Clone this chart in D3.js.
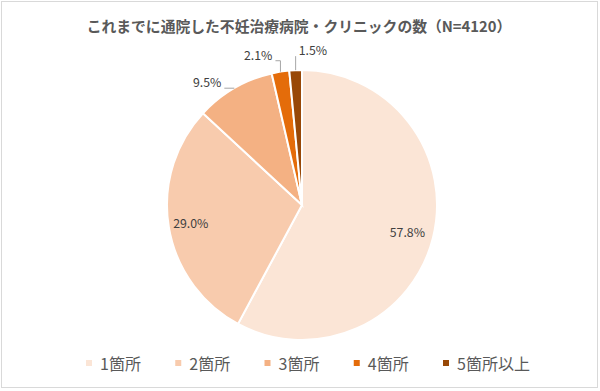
<!DOCTYPE html>
<html>
<head>
<meta charset="utf-8">
<script src="https://cdn.jsdelivr.net/npm/d3@7"></script>
<style>
  body { margin: 0; background: #fff; }
  text { font-family: "Noto Sans CJK JP", "Noto Sans", sans-serif; }
</style>
</head>
<body>
<div id="vis-container"></div>
<script>
// Chart data
var categories = ["1箇所", "2箇所", "3箇所", "4箇所", "5箇所以上"];
var values = [57.8, 29.0, 9.5, 2.1, 1.5];
var labels = ["57.8%", "29.0%", "9.5%", "2.1%", "1.5%"];
var colors = ["#FBE5D6", "#F8CBAD", "#F4B183", "#E46C0A", "#984807"];
var title = "これまでに通院した不妊治療病院・クリニックの数（N=4120）";

var width = 600;
var height = 391;
var radius = 135;
var cx = 302, cy = 205;

var svg = d3.select("#vis-container").append("svg")
    .attr("width", width)
    .attr("height", height);

// outer frame
svg.append("rect")
    .attr("x", 1.5).attr("y", 1.5)
    .attr("width", width - 4).attr("height", height - 5)
    .attr("fill", "#fff")
    .attr("stroke", "#d9d9d9");

svg.append("text")
    .attr("x", 299)
    .attr("y", 32)
    .attr("text-anchor", "middle")
    .attr("font-size", 14.8)
    .attr("font-weight", "bold")
    .attr("fill", "#595959")
    .text(title);

var data = categories.map(function (c, i) {
    return {name: c, value: values[i], label: labels[i], color: colors[i]};
});

var pie = d3.pie().sort(null).value(function (d) { return d.value; });
var arcs = pie(data);
var arc = d3.arc().innerRadius(0).outerRadius(radius);
var edgeArc = d3.arc().innerRadius(radius).outerRadius(radius);
var inArc = d3.arc().innerRadius(radius * 0.82).outerRadius(radius * 0.82);

var pieG = svg.append("g").attr("transform", "translate(" + cx + "," + cy + ")");

pieG.selectAll("path.slice")
    .data(arcs)
    .enter().append("path")
    .attr("class", "slice")
    .attr("d", arc)
    .attr("fill", function (d) { return d.data.color; })
    .attr("stroke", "#fff")
    .attr("stroke-width", 2);

// leader line styles for the small slices: [kind, length]
var leaderStyle = [null, null, ["h", 10], ["vl", 11], ["vr", 14]];

arcs.forEach(function (d, i) {
    if (!leaderStyle[i]) {
        var c = inArc.centroid(d);
        pieG.append("text")
            .attr("x", c[0] - 2).attr("y", c[1] + 1)
            .attr("text-anchor", "middle")
            .attr("dy", "0.35em")
            .attr("font-size", 12.3)
            .attr("fill", "#404040")
            .text(d.data.label);
        return;
    }
    var p = edgeArc.centroid(d);
    var s = leaderStyle[i];
    var pts, tx, ty, anchor;
    if (s[0] === "h") {
        pts = [p, [p[0] - s[1], p[1]]];
        tx = p[0] - s[1] - 3; ty = p[1] - 1; anchor = "end";
    } else if (s[0] === "vl") {
        pts = [p, [p[0], p[1] - s[1]], [p[0] - 5, p[1] - s[1]]];
        tx = p[0] - 8; ty = p[1] - s[1] - 1; anchor = "end";
    } else {
        pts = [p, [p[0], p[1] - s[1]]];
        tx = p[0] + 3; ty = p[1] - s[1] - 1; anchor = "start";
    }
    pieG.append("path")
        .attr("d", d3.line()(pts))
        .attr("fill", "none")
        .attr("stroke", "#a6a6a6")
        .attr("stroke-width", 1);
    pieG.append("text")
        .attr("x", tx).attr("y", ty)
        .attr("text-anchor", anchor)
        .attr("font-size", 12.3)
        .attr("fill", "#404040")
        .text(d.data.label);
});

// legend
var legendX = d3.scalePoint().domain(categories).range([86, 443]);
var legend = svg.append("g").selectAll("g")
    .data(data)
    .enter().append("g")
    .attr("transform", function (d) { return "translate(" + legendX(d.name) + ",364)"; });

legend.append("rect")
    .attr("x", 0).attr("y", -4)
    .attr("width", 6).attr("height", 6)
    .attr("fill", function (d) { return d.color; });

legend.append("text")
    .attr("x", 14).attr("y", 0)
    .attr("dy", "0.35em")
    .attr("font-size", 16)
    .attr("fill", "#595959")
    .text(function (d) { return d.name; });
</script>
</body>
</html>
